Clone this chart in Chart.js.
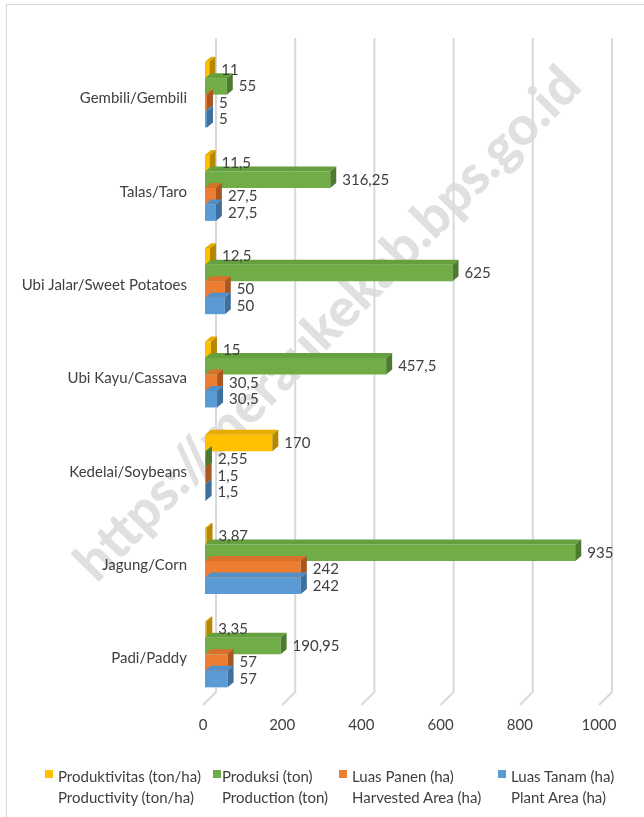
<!DOCTYPE html>
<html><head><meta charset="utf-8">
<script src="https://cdn.jsdelivr.net/npm/chart.js@4/dist/chart.umd.min.js"></script>
<style>
html,body{margin:0;padding:0;background:#fff;}
#wrap{position:relative;width:644px;height:817px;overflow:hidden;background:#fff;font-family:Lato,"Noto Sans",sans-serif;}
#frame{position:absolute;left:6px;top:4px;width:700px;height:900px;border:1px solid #d9d9d9;box-sizing:border-box;}
#wm{position:absolute;left:326px;top:322px;white-space:nowrap;font-family:Lato,sans-serif;font-weight:900;color:#e0e0e0;transform-origin:0 0;}
canvas{position:absolute;left:0;top:0;}
.lg{position:absolute;top:766px;font-size:15px;line-height:21px;color:#404040;white-space:nowrap;}
.sq{position:absolute;top:770px;width:8px;height:8px;}
</style></head>
<body><div id="wrap">
<div id="frame"></div>
<div id="wm">https://meraukekab.bps.go.id</div>
<canvas id="c" width="644" height="817"></canvas>
<div id="legend"></div>
</div>
<script>
const categories = ["Gembili/Gembili","Talas/Taro","Ubi Jalar/Sweet Potatoes","Ubi Kayu/Cassava","Kedelai/Soybeans","Jagung/Corn","Padi/Paddy"];
const produktivitas = [11, 11.5, 12.5, 15, 170, 3.87, 3.35];
const produksi = [55, 316.25, 625, 457.5, 2.55, 935, 190.95];
const luasPanen = [5, 27.5, 50, 30.5, 1.5, 242, 57];
const luasTanam = [5, 27.5, 50, 30.5, 1.5, 242, 57];
const seriesNames = [
  ["Produktivitas (ton/ha)","Productivity (ton/ha)"],
  ["Produksi (ton)","Production (ton)"],
  ["Luas Panen (ha)","Harvested Area (ha)"],
  ["Luas Tanam (ha)","Plant Area (ha)"]
];
const xTicks = [0,200,400,600,800,1000];

const frontColors = ["#ffc000","#70ad47","#ed7d31","#5b9bd5"];
const topColors = ["#e6ad00","#64a03e","#d9702a","#5290c9"];
const sideColors = ["#b58800","#4c7a2f","#a9561f","#3f6f9c"];
const DX = 6, DY = 5;

// watermark sizing
(function(){
  const wm = document.getElementById('wm');
  const c = document.createElement('canvas').getContext('2d');
  c.font = '900 100px Lato';
  const w = c.measureText(wm.textContent).width;
  const fs = 100 * 695 / w;
  wm.style.fontSize = fs + 'px';
  wm.style.lineHeight = fs + 'px';
  wm.style.transform = 'rotate(-45.5deg) translate(' + (-695/2) + 'px,' + (-fs/2) + 'px)';
})();

// legend
(function(){
  const lg = document.getElementById('legend');
  const sqX = [45, 213, 339, 498];
  const txX = [58, 222, 352, 511];
  seriesNames.forEach((n,i)=>{
    const s = document.createElement('div');
    s.className='sq'; s.style.left=sqX[i]+'px'; s.style.background=frontColors[i];
    lg.appendChild(s);
    const t = document.createElement('div');
    t.className='lg'; t.style.left=txX[i]+'px';
    t.innerHTML = n[0] + '<br>' + n[1];
    lg.appendChild(t);
  });
})();

const fmt = v => String(v).replace('.', ',');

const gridPlugin = {
  id:'grid3d',
  beforeDatasetsDraw(chart){
    const ctx = chart.ctx, xs = chart.scales.x, a = chart.chartArea;
    ctx.save();
    ctx.strokeStyle = '#d9d9d9';
    ctx.lineWidth = 2;
    xTicks.forEach(v=>{
      const x = xs.getPixelForValue(v);
      ctx.beginPath();
      ctx.moveTo(x+11, 38);
      ctx.lineTo(x+11, a.bottom - 9);
      ctx.lineTo(x-2, a.bottom + 4);
      ctx.stroke();
    });
    ctx.restore();
  }
};

const depthPlugin = {
  id:'depth',
  afterDatasetsDraw(chart){
    const ctx = chart.ctx;
    ctx.save();
    const n = chart.data.labels.length;
    const nd = chart.data.datasets.length;
    for (let i=0;i<n;i++){
      for (let d=0; d<nd; d++){
        const bar = chart.getDatasetMeta(d).data[i];
        const p = bar.getProps(['x','y','base','height'], true);
        const top = p.y - p.height/2, bot = p.y + p.height/2;
        ctx.fillStyle = topColors[d];
        ctx.beginPath();
        ctx.moveTo(p.base, top); ctx.lineTo(p.base+DX, top-DY);
        ctx.lineTo(p.x+DX, top-DY); ctx.lineTo(p.x, top); ctx.closePath(); ctx.fill();
        ctx.fillStyle = sideColors[d];
        ctx.beginPath();
        ctx.moveTo(p.x, top); ctx.lineTo(p.x+DX, top-DY);
        ctx.lineTo(p.x+DX, bot-DY); ctx.lineTo(p.x, bot); ctx.closePath(); ctx.fill();
      }
    }
    ctx.fillStyle = '#404040';
    ctx.font = '15px Lato';
    ctx.textBaseline = 'middle';
    ctx.textAlign = 'left';
    for (let d=0; d<nd; d++){
      const meta = chart.getDatasetMeta(d);
      meta.data.forEach((bar,i)=>{
        const p = bar.getProps(['x','y'], true);
        ctx.fillText(fmt(chart.data.datasets[d].data[i]), p.x + 12, p.y);
      });
    }
    ctx.restore();
  }
};

new Chart(document.getElementById('c'), {
  type:'bar',
  data:{
    labels:categories,
    datasets:[
      {label:seriesNames[0].join(' '), data:produktivitas, backgroundColor:frontColors[0]},
      {label:seriesNames[1].join(' '), data:produksi, backgroundColor:frontColors[1]},
      {label:seriesNames[2].join(' '), data:luasPanen, backgroundColor:frontColors[2]},
      {label:seriesNames[3].join(' '), data:luasTanam, backgroundColor:frontColors[3]}
    ]
  },
  options:{
    indexAxis:'y',
    responsive:false,
    animation:false,
    devicePixelRatio:1,
    categoryPercentage:0.707,
    barPercentage:1,
    layout:{padding:{top:48,right:43,bottom:86,left:0}},
    plugins:{legend:{display:false},tooltip:{enabled:false}},
    scales:{
      x:{
        min:0,max:1000,
        afterBuildTicks(s){ s.ticks = xTicks.map(v=>({value:v})); },
        afterFit(s){ s.height = 30; },
        grid:{display:false,drawTicks:false},
        border:{display:false},
        ticks:{color:'#404040',font:{family:'Lato',size:15},padding:15,labelOffset:-2,maxRotation:0,
          callback:v=>String(v)}
      },
      y:{
        afterFit(s){ s.width = 205; },
        grid:{display:false,drawTicks:false},
        border:{display:false},
        ticks:{color:'#404040',font:{family:'Lato',size:15},padding:18,labelOffset:4}
      }
    }
  },
  plugins:[gridPlugin, depthPlugin]
});
</script>
</body></html>
